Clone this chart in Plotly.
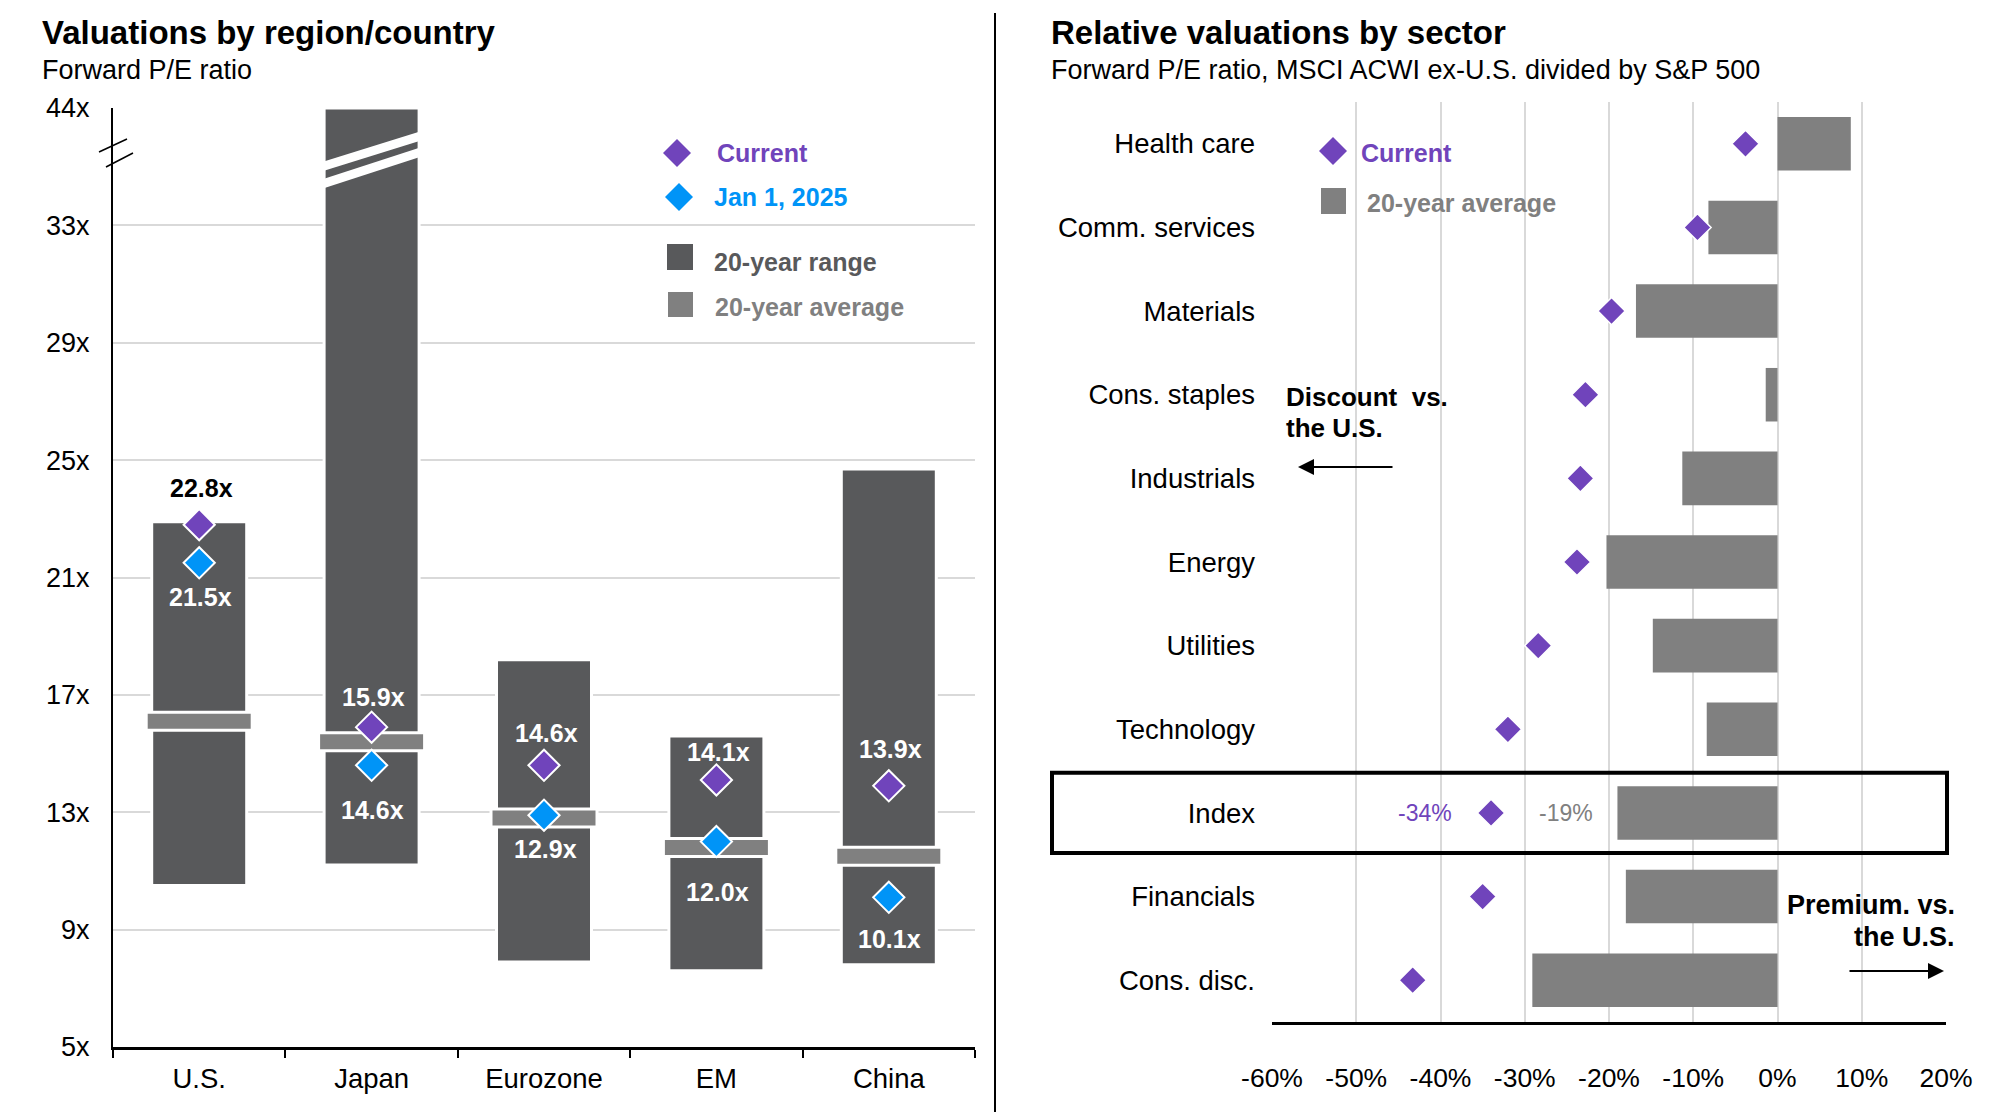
import plotly.graph_objects as go

# ---------------- data: left chart (forward P/E by region) ----------------
regions = ["U.S.", "Japan", "Eurozone", "EM", "China"]
range_low = [10.5, 11.2, 7.9, 7.6, 7.8]
range_high = [22.9, 44.0, 18.2, 15.6, 24.7]
avg_20yr = [16.1, 15.4, 12.8, 11.8, 11.5]
current_pe = [22.8, 15.9, 14.6, 14.1, 13.9]
jan_2025_pe = [21.5, 14.6, 12.9, 12.0, 10.1]
pe_ticks = [5, 9, 13, 17, 21, 25, 29, 33, 44]

# ---------------- data: right chart (relative valuations by sector) ----------------
sectors = ["Health care", "Comm. services", "Materials", "Cons. staples", "Industrials",
           "Energy", "Utilities", "Technology", "Index", "Financials", "Cons. disc."]
sector_current = [-3.8, -9.5, -19.7, -22.8, -23.4, -23.8, -28.4, -32.0, -34.0, -35.0, -43.3]
sector_avg = [8.7, -8.2, -16.8, -1.4, -11.3, -20.3, -14.8, -8.4, -19.0, -18.0, -29.1]
pct_ticks = [-60, -50, -40, -30, -20, -10, 0, 10, 20]

# ---------------- styling ----------------
W, H = 2004, 1120
FONT = "Liberation Sans, Arial, sans-serif"
PURPLE = "#7044bb"
BLUE = "#0094f7"
DARK = "#58595b"
AVG = "#808080"
GRID = "#d9d9d9"

# pixel frame of the two plot areas
LX0, LX1, LY0, LY1 = 113, 975, 108, 1047
RX0, RX1, RY0, RY1 = 1272, 1946, 102, 1022

BREAK_LOW, BREAK_HIGH, BREAK_SPAN = 33, 44, 4   # axis break: 33x..44x squeezed into 4 units


def pos(v):
    """Map a P/E value onto the broken left axis."""
    if v <= BREAK_LOW:
        return v
    return BREAK_LOW + (v - BREAK_LOW) * BREAK_SPAN / (BREAK_HIGH - BREAK_LOW)


def fx(px):
    return px / W


def fy(py):
    return 1 - py / H


Y_MIN, Y_MAX = 5, pos(BREAK_HIGH)
ppu = (LY1 - LY0) / (Y_MAX - Y_MIN)          # pixels per P/E unit
cat_px = (LX1 - LX0) / len(regions)           # pixels per category

range_w = 95 / cat_px
avg_w = 106 / cat_px
avg_h = 18 / ppu

fig = go.Figure()

# 20-year range bars
fig.add_trace(go.Bar(
    x=regions, base=range_low,
    y=[pos(h) - l for h, l in zip(range_high, range_low)],
    width=range_w, marker=dict(color=DARK, line=dict(color="white", width=3)),
    hoverinfo="skip", showlegend=False, xaxis="x", yaxis="y"))

# 20-year average bars
fig.add_trace(go.Bar(
    x=regions, base=[a - avg_h / 2 for a in avg_20yr], y=[avg_h] * len(avg_20yr),
    width=avg_w, marker=dict(color=AVG, line=dict(color="white", width=3)),
    hoverinfo="skip", showlegend=False, xaxis="x", yaxis="y"))

# markers
fig.add_trace(go.Scatter(
    x=regions, y=jan_2025_pe, mode="markers",
    marker=dict(symbol="diamond", size=24, color=BLUE, line=dict(color="white", width=2)),
    hoverinfo="skip", showlegend=False, xaxis="x", yaxis="y"))
fig.add_trace(go.Scatter(
    x=regions, y=current_pe, mode="markers",
    marker=dict(symbol="diamond", size=24, color=PURPLE, line=dict(color="white", width=2)),
    hoverinfo="skip", showlegend=False, xaxis="x", yaxis="y"))

# right chart bars + markers
fig.add_trace(go.Bar(
    y=sectors, x=sector_avg, orientation="h", width=0.64,
    marker=dict(color=AVG, line=dict(width=0)),
    hoverinfo="skip", showlegend=False, xaxis="x2", yaxis="y2"))
fig.add_trace(go.Scatter(
    y=sectors, x=sector_current, mode="markers",
    marker=dict(symbol="diamond", size=21, color=PURPLE, line=dict(color="white", width=1.5)),
    hoverinfo="skip", showlegend=False, xaxis="x2", yaxis="y2"))

annotations = []
shapes = []

# data labels on the left chart
above_shift = [37, 30, 32, 28, 37]
below_shift = [34, 45, 34, 50, 42]
for i, r in enumerate(regions):
    cur_top = current_pe[i] + above_shift[i] / ppu
    annotations.append(dict(
        x=r, y=current_pe[i], xref="x", yref="y", text=f"{current_pe[i]:.1f}x",
        showarrow=False, yshift=above_shift[i], xshift=2,
        font=dict(family=FONT, size=25, color="black" if cur_top > range_high[i] else "white", weight="bold")))
    annotations.append(dict(
        x=r, y=jan_2025_pe[i], xref="x", yref="y", text=f"{jan_2025_pe[i]:.1f}x",
        showarrow=False, yshift=-below_shift[i], xshift=1,
        font=dict(family=FONT, size=25, color="white", weight="bold")))

# break stripes on the Japan bar
ji = regions.index("Japan")
for yl, yr in [(166, 136.5), (183.5, 152.5)]:
    x0 = ji - range_w / 2 - 0.05
    x1 = ji + range_w / 2 + 0.05
    slope = (yr - yl) / (range_w * cat_px)
    shapes.append(dict(type="line", xref="x", yref="y",
                       x0=x0, x1=x1,
                       y0=Y_MAX - (yl - 0.05 * cat_px * slope - LY0) / ppu,
                       y1=Y_MAX - (yr + 0.05 * cat_px * slope - LY0) / ppu,
                       line=dict(color="white", width=9), layer="above"))

# axis break marks on the left y-axis
for (x0, y0, x1, y1) in [(99, 152, 127, 139), (106, 167, 133, 153)]:
    shapes.append(dict(type="line", xref="paper", yref="paper",
                       x0=fx(x0), y0=fy(y0), x1=fx(x1), y1=fy(y1),
                       line=dict(color="black", width=1.5), layer="above"))

# divider between panels
shapes.append(dict(type="line", xref="paper", yref="paper",
                   x0=fx(995), x1=fx(995), y0=fy(13), y1=fy(1112),
                   line=dict(color="black", width=2)))


def diamond(cx, cy, r, color):
    pts = [(cx, cy - r), (cx + r, cy), (cx, cy + r), (cx - r, cy)]
    path = "M " + " L ".join(f"{fx(x):.5f},{fy(y):.5f}" for x, y in pts) + " Z"
    return dict(type="path", xref="paper", yref="paper", path=path,
                fillcolor=color, line=dict(width=0), layer="above")


def square(x0, y0, x1, y1, color):
    return dict(type="rect", xref="paper", yref="paper",
                x0=fx(x0), x1=fx(x1), y0=fy(y1), y1=fy(y0),
                fillcolor=color, line=dict(width=0), layer="above")


def text(x, y, s, size, color="black", bold=False, xanchor="left"):
    return dict(x=fx(x), y=fy(y), xref="paper", yref="paper", text=s, showarrow=False,
                xanchor=xanchor, yanchor="middle",
                font=dict(family=FONT, size=size, color=color, weight="bold" if bold else "normal"))


# left legend
shapes += [diamond(677, 153, 14, PURPLE), diamond(679, 197, 14, BLUE),
           square(667, 244, 693, 270, DARK), square(668, 292, 693, 317, AVG)]
annotations += [text(715, 153, "Current", 25, PURPLE, True),
                text(712, 197, "Jan 1, 2025", 25, BLUE, True),
                text(712, 262, "20-year range", 25, DARK, True),
                text(713, 307, "20-year average", 25, AVG, True)]

# right legend
shapes += [diamond(1333, 151, 14, PURPLE), square(1321, 188, 1346, 214, AVG)]
annotations += [text(1359, 153, "Current", 25, PURPLE, True),
                text(1365, 203, "20-year average", 25, AVG, True)]

# titles
annotations += [text(40, 32, "Valuations by region/country", 33, "black", True),
                text(40, 70, "Forward P/E ratio", 27),
                text(1049, 32, "Relative valuations by sector", 33, "black", True),
                text(1049, 70, "Forward P/E ratio, MSCI ACWI ex-U.S. divided by S&P 500", 27)]

# discount / premium notes and arrows
annotations += [text(1284, 397, "Discount  vs.", 26, "black", True),
                text(1284, 428, "the U.S.", 26, "black", True),
                text(1957, 905, "Premium. vs.", 27, "black", True, "right"),
                text(1957, 937, "the U.S.", 27, "black", True, "right")]
annotations.append(dict(x=fx(1298), y=fy(467), xref="paper", yref="paper", text="",
                        showarrow=True, ax=96, ay=0, arrowhead=2, arrowsize=1.6,
                        arrowwidth=2, arrowcolor="black"))
annotations.append(dict(x=fx(1944), y=fy(971), xref="paper", yref="paper", text="",
                        showarrow=True, ax=-96, ay=0, arrowhead=2, arrowsize=1.6,
                        arrowwidth=2, arrowcolor="black"))

# Index row highlight box and labels
idx = sectors.index("Index")
shapes.append(dict(type="rect", xref="paper", yref="y2",
                   x0=fx(1052), x1=fx(1947), y0=idx - 0.48, y1=idx + 0.48,
                   line=dict(color="black", width=4), layer="above"))
annotations.append(dict(x=sector_current[idx], y="Index", xref="x2", yref="y2",
                        text=f"{sector_current[idx]:.0f}%", showarrow=False,
                        xanchor="right", xshift=-37,
                        font=dict(family=FONT, size=23, color=PURPLE)))
annotations.append(dict(x=sector_avg[idx], y="Index", xref="x2", yref="y2",
                        text=f"{sector_avg[idx]:.0f}%", showarrow=False,
                        xanchor="right", xshift=-22,
                        font=dict(family=FONT, size=23, color=AVG)))

catfont = dict(family=FONT, size=27.5, color="black")
valfont = dict(family=FONT, size=27, color="black")
pctfont = dict(family=FONT, size=26.5, color="black")

fig.update_layout(
    autosize=True,
    margin=dict(l=0, r=0, t=0, b=0, pad=0, autoexpand=False),
    paper_bgcolor="white", plot_bgcolor="rgba(0,0,0,0)",
    barmode="overlay", showlegend=False,
    font=dict(family=FONT, color="black"),
    annotations=annotations, shapes=shapes,
    xaxis=dict(domain=[fx(LX0), fx(LX1)], anchor="y", type="category",
               categoryorder="array", categoryarray=regions, range=[-0.5, len(regions) - 0.5],
               showline=True, linecolor="black", linewidth=3,
               ticks="outside", tickson="boundaries", ticklen=8, tickwidth=2, tickcolor="black",
               tickfont=catfont, showgrid=False, zeroline=False, fixedrange=True,
               ticklabelstandoff=5),
    yaxis=dict(domain=[fy(LY1), fy(LY0)], anchor="x", range=[Y_MIN, Y_MAX],
               tickvals=[pos(v) for v in pe_ticks], ticktext=[f"{v}x" for v in pe_ticks],
               showgrid=True, gridcolor=GRID, gridwidth=1.5,
               showline=True, linecolor="black", linewidth=2,
               ticks="", tickfont=valfont, zeroline=False, fixedrange=True,
               ticklabelstandoff=16),
    xaxis2=dict(domain=[fx(RX0), fx(RX1)], anchor="y2", range=[pct_ticks[0], pct_ticks[-1]],
                tickvals=pct_ticks, ticktext=[f"{v}%" for v in pct_ticks],
                showgrid=True, gridcolor=GRID, gridwidth=1.5,
                showline=True, linecolor="black", linewidth=3,
                ticks="", tickfont=pctfont, zeroline=False, fixedrange=True,
                ticklabelstandoff=30),
    yaxis2=dict(domain=[fy(RY1), fy(RY0)], anchor="x2", type="category",
                categoryorder="array", categoryarray=sectors,
                range=[len(sectors) - 0.5, -0.5],
                ticks="", showgrid=False, showline=False, zeroline=False,
                tickfont=catfont, fixedrange=True, ticklabelstandoff=16),
    yaxis3=dict(overlaying="y2", anchor="free",
                position=fx(RX0 + (0 - pct_ticks[0]) / (pct_ticks[-1] - pct_ticks[0]) * (RX1 - RX0)),
                range=[len(sectors) - 0.5, -0.5],
                tickvals=[k - 0.5 for k in range(len(sectors) + 1)],
                showticklabels=False, ticks="outside", ticklen=8, tickwidth=2, tickcolor="black",
                showline=True, linecolor="black", linewidth=3,
                showgrid=False, zeroline=False, fixedrange=True, side="left"),
)

fig.write_html(
    "out.html",
    config={"displayModeBar": False, "responsive": True},
    default_width="100vw", default_height="100vh",
    post_script=("document.documentElement.style.margin='0';"
                 "document.body.style.margin='0';"
                 "document.body.style.overflow='hidden';"
                 "var gd=document.getElementsByClassName('plotly-graph-div')[0];"
                 "Plotly.Plots.resize(gd);"),
)
